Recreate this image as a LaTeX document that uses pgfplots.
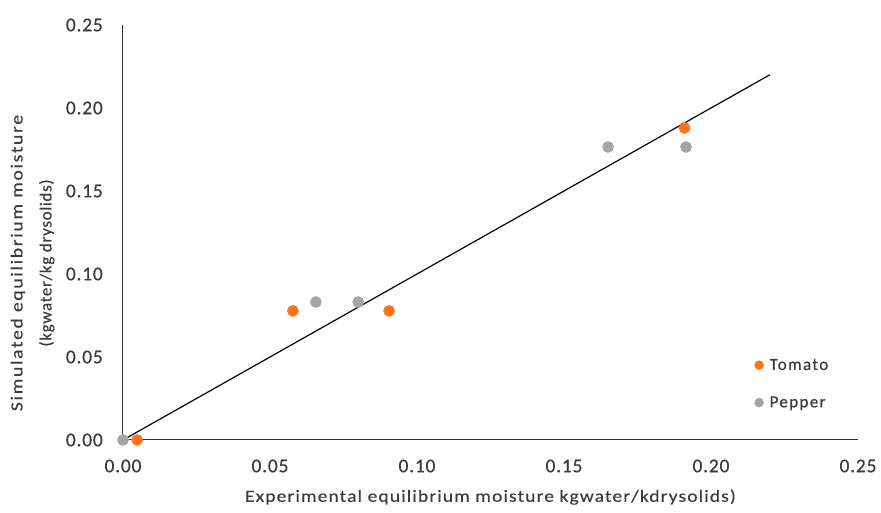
\documentclass[border=0pt]{standalone}
\usepackage{pgfplots}
\pgfplotsset{compat=1.18}
\usepackage{fontspec}
\setmainfont{Carlito}
\definecolor{tomato}{RGB}{252,115,25}
\definecolor{pepper}{RGB}{165,165,165}
\definecolor{ticktxt}{RGB}{60,60,60}
\begin{document}
\begin{tikzpicture}
\path[use as bounding box] (-123pt,-73pt) rectangle (758pt,440pt);
\begin{axis}[
  scale only axis,
  width=735pt, height=415pt,
  at={(0,0)}, anchor=south west,
  xmin=0, xmax=0.25, ymin=0, ymax=0.25,
  axis x line=bottom, axis y line=left,
  axis line style={draw=black!80, line width=1pt, -},
  xtick={0,0.05,0.10,0.15,0.20,0.25},
  ytick={0,0.05,0.10,0.15,0.20,0.25},
  major tick length=0pt,
  tick label style={font=\fontsize{19.5}{21}\selectfont\addfontfeatures{LetterSpace=4,FakeBold=0.4}, text=ticktxt, inner sep=0pt},
  /pgf/number format/assume math mode=true,
  /pgf/number format/.cd, fixed, fixed zerofill, precision=2, /pgfplots/.cd,
  xticklabel style={anchor=center, yshift=-26pt},
  yticklabel style={anchor=east, xshift=-20pt},
  xlabel={Experimental equilibrium moisture kgwater/kdrysolids)},
  ylabel={{\addfontfeatures{FakeStretch=1.15,LetterSpace=10,FakeBold=0.4}Simulated equilibrium moisture}\\{\addfontfeatures{LetterSpace=4,FakeBold=0.4}(kgwater/kg drysolids)}},
  ylabel style={at={(axis description cs:-0.1231,0.4265)}, anchor=center, align=center,
    font=\fontsize{17}{29}\selectfont, text=ticktxt},
  xlabel style={at={(axis description cs:0.5,0)}, anchor=center, yshift=-57pt,
    font=\fontsize{17}{19}\selectfont\addfontfeatures{FakeStretch=1.15,LetterSpace=6.5,FakeBold=0.4}, text=ticktxt},
  clip=false,
  legend style={draw=none, fill=none, at={(0.855,0.065)}, anchor=south west,
    font=\fontsize{17}{19}\selectfont\addfontfeatures{LetterSpace=8,FakeBold=0.4}, text=ticktxt, row sep=21pt,
    /tikz/every odd column/.append style={column sep=4pt}},
  legend cell align=left,
  legend image post style={mark size=4.5pt},
]
\addplot[black, line width=1.2pt, forget plot] coordinates {(0,0) (0.22,0.22)};
\addplot[only marks, mark=*, mark size=5.6pt, color=tomato, mark options={draw=tomato, fill=tomato}] coordinates {
 (0.0048,0.0) (0.0578,0.0778) (0.0905,0.0778) (0.191,0.188)};
\addlegendentry{Tomato}
\addplot[only marks, mark=*, mark size=5.6pt, color=pepper, mark options={draw=pepper, fill=pepper}] coordinates {
 (0.0,0.0) (0.0656,0.0831) (0.080,0.0831) (0.165,0.1765) (0.1915,0.1765)};
\addlegendentry{Pepper}
\end{axis}
\end{tikzpicture}
\end{document}
